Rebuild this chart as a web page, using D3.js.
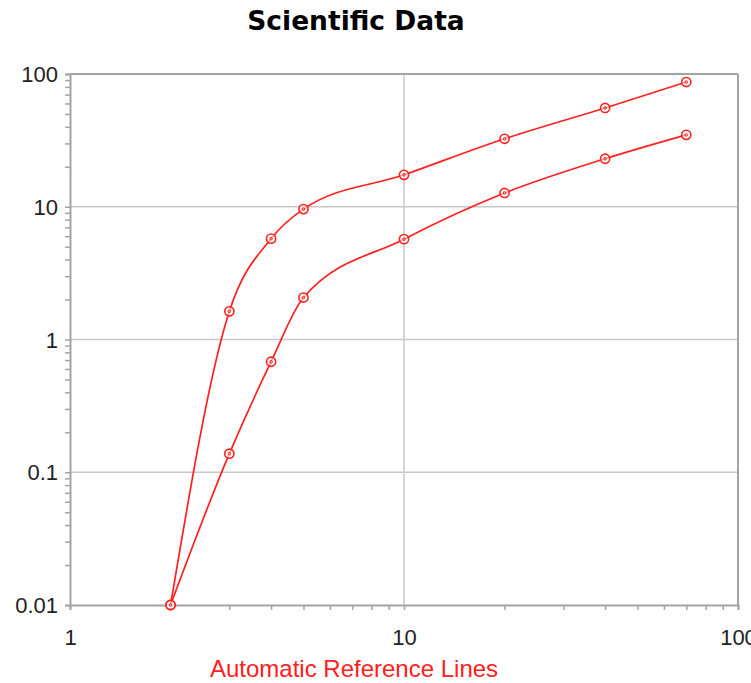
<!DOCTYPE html>
<html><head><meta charset="utf-8">
<script src="https://cdn.jsdelivr.net/npm/d3@7"></script>
<style>body{margin:0;background:#fff}svg{display:block}</style>
</head><body>
<script>
const xValues = [2, 3, 4, 5, 10, 20, 40, 70];
const series1 = [0.01, 1.63, 5.75, 9.6, 17.4, 32.5, 55.5, 87];
const series2 = [0.01, 0.138, 0.68, 2.07, 5.7, 12.7, 23, 34.8];
const xTicks = [1, 10, 100];
const yTicks = [0.01, 0.1, 1, 10, 100];
const titleText = "Scientific Data";
const footText = "Automatic Reference Lines";

const W = 751, H = 683;
const L = 70, R = 738, T = 74, B = 605;
const svg = d3.select("body").append("svg").attr("width", W).attr("height", H);
const x = d3.scaleLog().domain([1, 100]).range([L, R]);
const y = d3.scaleLog().domain([0.01, 100]).range([B, T]);
const gridC = "#c8c8c8", axisC = "#a4a4a4", red = "#ff2020";

// grid
svg.append("g").selectAll("line").data(yTicks.filter(v => v > 0.01 && v < 100)).join("line")
  .attr("x1", L).attr("x2", R).attr("y1", d => y(d)).attr("y2", d => y(d))
  .attr("stroke", gridC).attr("stroke-width", 1.5);
svg.append("g").selectAll("line").data(xTicks.filter(v => v > 1 && v < 100)).join("line")
  .attr("y1", T).attr("y2", B).attr("x1", d => x(d)).attr("x2", d => x(d))
  .attr("stroke", gridC).attr("stroke-width", 1.5);
// frame top/right
svg.append("line").attr("x1", L).attr("x2", R).attr("y1", T).attr("y2", T).attr("stroke", axisC).attr("stroke-width", 2);
svg.append("line").attr("x1", R).attr("x2", R).attr("y1", T).attr("y2", B).attr("stroke", axisC).attr("stroke-width", 2);

const minorX = x.ticks().filter(v => v >= 1 && v <= 100);
const minorY = y.ticks().filter(v => v >= 0.01 && v <= 100);

const xAxis = svg.append("g").attr("transform", `translate(0,${B})`)
  .call(d3.axisBottom(x).tickValues(minorX).tickSize(5).tickFormat(d => xTicks.includes(d) ? d3.format("~g")(d) : ""));
const yAxis = svg.append("g").attr("transform", `translate(${L},0)`)
  .call(d3.axisLeft(y).tickValues(minorY).tickSize(5).tickFormat(d => yTicks.includes(d) ? d3.format("~g")(d) : ""));
[xAxis, yAxis].forEach(a => {
  a.select(".domain").attr("stroke", axisC).attr("stroke-width", 2);
  a.selectAll(".tick line").attr("stroke", axisC).attr("stroke-width", 1.5);
  a.selectAll(".tick text").attr("fill", "#222").attr("font-family", "Liberation Sans, Arial, sans-serif").attr("font-size", 22);
});
xAxis.selectAll(".tick text").attr("dy", "0").attr("y", 40);
yAxis.selectAll(".tick text").attr("x", -12).attr("dy", "0.35em");

const line = d3.line().x(d => x(d[0])).y(d => y(d[1])).curve(d3.curveMonotoneX);
[series1, series2].forEach(s => {
  const pts = xValues.map((v, i) => [v, s[i]]);
  svg.append("path").datum(pts).attr("d", line).attr("fill", "none").attr("stroke", red).attr("stroke-width", 1.7);
  const g = svg.append("g").selectAll("g").data(pts).join("g")
    .attr("transform", d => `translate(${x(d[0])},${y(d[1])})`);
  g.append("circle").attr("r", 4.6).attr("fill", "#fff").attr("fill-opacity", 0.6).attr("stroke", red).attr("stroke-width", 1.6);
  g.append("circle").attr("r", 1.3).attr("fill", "none").attr("stroke", red).attr("stroke-width", 1);
});

svg.append("text").attr("x", 356).attr("y", 30).attr("text-anchor", "middle")
  .attr("font-family", "DejaVu Sans, sans-serif").attr("font-weight", "bold").attr("font-size", 26.5)
  .attr("fill", "#000").text(titleText);
svg.append("text").attr("x", 354).attr("y", 677).attr("text-anchor", "middle")
  .attr("font-family", "Liberation Sans, Arial, sans-serif").attr("font-size", 24)
  .attr("fill", red).text(footText);
</script>
</body></html>
